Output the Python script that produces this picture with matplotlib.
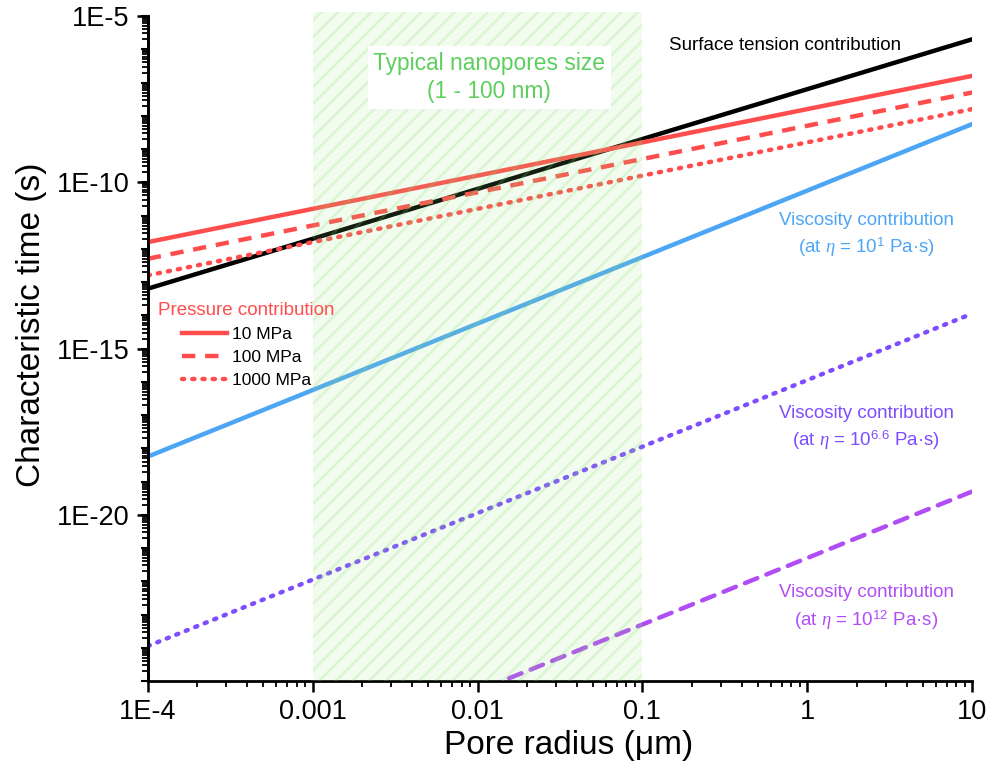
import numpy as np
import matplotlib
matplotlib.use('Agg')
import matplotlib.pyplot as plt
from matplotlib.ticker import FixedLocator, LogLocator, NullFormatter, FuncFormatter

plt.rcParams['font.family'] = ['Liberation Sans', 'DejaVu Sans']
plt.rcParams['mathtext.fontset'] = 'custom'
plt.rcParams['mathtext.rm'] = 'Liberation Sans'
plt.rcParams['mathtext.it'] = 'Liberation Serif:italic'
plt.rcParams['hatch.linewidth'] = 1.8

# pore radius range (µm) and log10 of characteristic time (s) at both ends
radius = [1e-4, 10]
surface_tension = [-13.2, -5.7]
pressure_10 = [-11.8, -6.8]
pressure_100 = [-12.3, -7.3]
pressure_1000 = [-12.8, -7.8]
visc_1 = [-18.25, -8.25]
visc_6_6 = [-23.95, -13.95]
visc_12 = [-29.3, -19.3]

nano_range = [0.001, 0.1]
x_ticks = [1e-4, 1e-3, 1e-2, 1e-1, 1, 10]
x_tick_labels = ['1E-4', '0.001', '0.01', '0.1', '1', '10']
y_ticks = [1e-20, 1e-15, 1e-10, 1e-5]

red = '#ff4d4d'
blue = '#4da6f5'
violet = '#7d4dff'
magenta = '#b04df5'
green_txt = '#5ccf5c'

fig = plt.figure(figsize=(9.92, 7.81), dpi=100)
ax = fig.add_axes([0.149, 0.128, 0.831, 0.8515])

lw = 3.2
ax.plot(radius, 10 ** np.array(surface_tension), color='black', lw=lw)
l1, = ax.plot(radius, 10 ** np.array(pressure_10), color=red, lw=lw, label='10 MPa')
l2, = ax.plot(radius, 10 ** np.array(pressure_100), color=red, lw=lw, ls=(0, (3, 2.2)), label='100 MPa')
l3, = ax.plot(radius, 10 ** np.array(pressure_1000), color=red, lw=lw, ls=(0, (0.5, 1.8)),
              dash_capstyle='round', label='1000 MPa')
ax.plot(radius, 10 ** np.array(visc_1), color=blue, lw=lw)
ax.plot(radius, 10 ** np.array(visc_6_6), color=violet, lw=lw, ls=(0, (0.5, 1.8)), dash_capstyle='round')
ax.plot(radius, 10 ** np.array(visc_12), color=magenta, lw=lw, ls=(0, (3, 2.2)), dash_capstyle='round')

# shaded nanopore range, drawn over the lines
ax.axvspan(nano_range[0], nano_range[1], ymin=0, ymax=1.006, clip_on=False,
           facecolor=(0.6, 0.9, 0.5, 0.13), edgecolor=(0.5, 0.88, 0.4, 0.2),
           hatch='//', lw=0, zorder=5)

ax.set_xscale('log')
ax.set_yscale('log')
ax.set_xlim(1e-4, 10)
ax.set_ylim(1e-25, 1e-5)

ax.xaxis.set_major_locator(FixedLocator(x_ticks))
ax.set_xticklabels(x_tick_labels)
ax.xaxis.set_minor_locator(LogLocator(base=10, subs=np.arange(2, 10), numticks=50))
ax.xaxis.set_minor_formatter(NullFormatter())

ax.yaxis.set_major_locator(FixedLocator(y_ticks))
ax.yaxis.set_major_formatter(FuncFormatter(lambda v, p: '1E%d' % round(np.log10(v))))
ax.yaxis.set_minor_locator(LogLocator(base=10, subs=np.arange(2, 10), numticks=50))
ax.yaxis.set_minor_formatter(NullFormatter())

# unlabeled decade ticks on the y axis
sec = ax.secondary_yaxis('left')
sec.set_yscale('log')
sec.yaxis.set_major_locator(LogLocator(base=10, numticks=50))
sec.yaxis.set_minor_locator(FixedLocator([]))
sec.yaxis.set_major_formatter(NullFormatter())
sec.tick_params(which='major', length=5, width=1.5, direction='out')
sec.spines['left'].set_linewidth(2)

for s in ['top', 'right']:
    ax.spines[s].set_visible(False)
for s in ['left', 'bottom']:
    ax.spines[s].set_linewidth(2)
ax.tick_params(which='major', length=8, width=1.8, direction='out', labelsize=19.5, pad=5)
ax.tick_params(which='minor', length=4, width=1.3, direction='out')

ax.set_xlabel('Pore radius (μm)', fontsize=24, labelpad=6)
ax.set_ylabel('Characteristic time (s)', fontsize=24)
ax.yaxis.set_label_coords(-0.122, 0.535)
ax.xaxis.set_label_coords(0.51, -0.073)

ax.text(0.0118, 10 ** -6.85, 'Typical nanopores size\n(1 - 100 nm)', ha='center', va='center',
        fontsize=16.4, color=green_txt, linespacing=1.3, zorder=6,
        bbox=dict(facecolor='white', edgecolor='none', boxstyle='square,pad=0.25'))
ax.text(0.73, 10 ** -5.9, 'Surface tension contribution', ha='center', va='center', fontsize=13.5, color='black')
ax.text(2.28, 10 ** -11.6, 'Viscosity contribution\n(at $\\eta\\,=\\,10^{1}$ Pa·s)', ha='center', va='center',
        fontsize=13.5, color=blue, linespacing=1.4)
ax.text(2.28, 10 ** -17.4, 'Viscosity contribution\n(at $\\eta\\,=\\,10^{6.6}$ Pa·s)', ha='center', va='center',
        fontsize=13.5, color=violet, linespacing=1.4)
ax.text(2.28, 10 ** -22.8, 'Viscosity contribution\n(at $\\eta\\,=\\,10^{12}$ Pa·s)', ha='center', va='center',
        fontsize=13.5, color=magenta, linespacing=1.4)

leg = ax.legend(handles=[l1, l2, l3], title='Pressure contribution', loc='upper left',
                bbox_to_anchor=(0.0, 0.585), frameon=False, fontsize=12.5, title_fontsize=13.5,
                handlelength=2.6, handletextpad=0.3, labelspacing=0.45, borderaxespad=0.2)
leg.get_title().set_color(red)
leg._legend_box.align = 'center'

fig.savefig('out.png', dpi=100)
